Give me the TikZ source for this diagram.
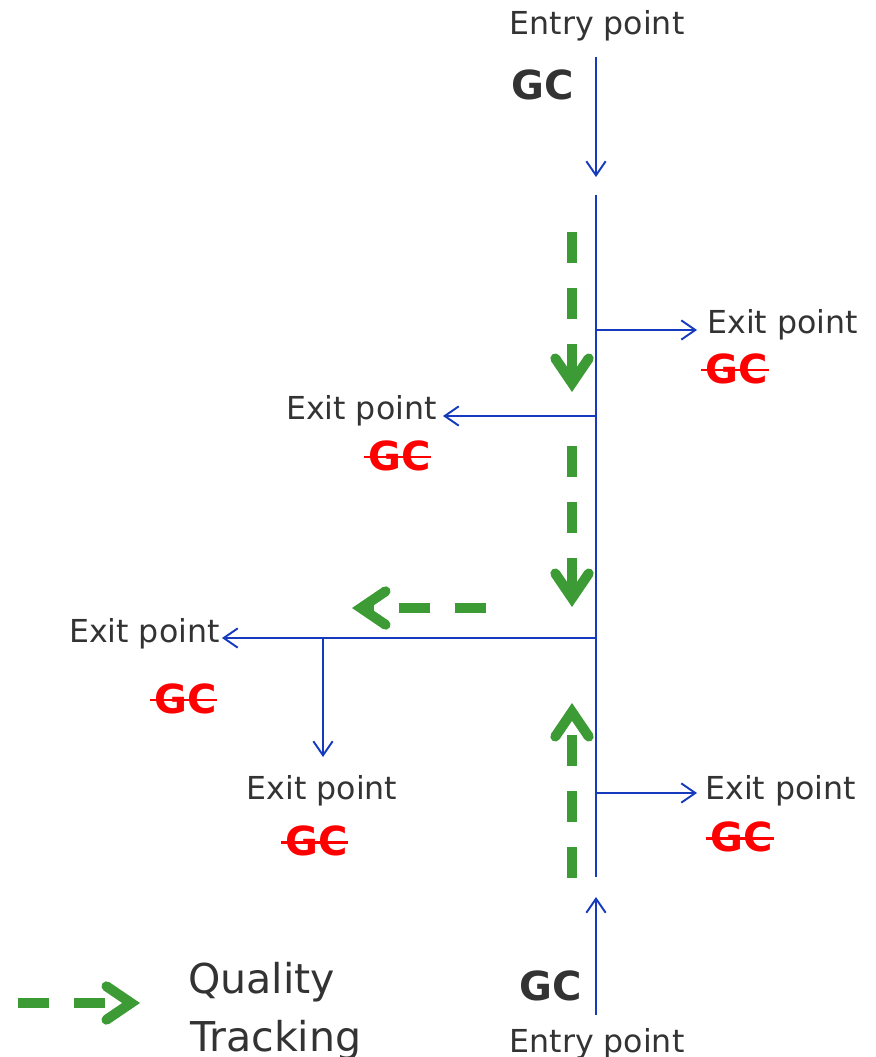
\documentclass[tikz,border=0pt]{standalone}
\usepackage{fontspec}
\setmainfont{DejaVu Sans}
\usetikzlibrary{arrows.meta,positioning}

\definecolor{txtgray}{RGB}{51,51,51}
\definecolor{flowblue}{RGB}{22,58,190}
\definecolor{trackgreen}{RGB}{61,155,53}

\begin{document}
\begin{tikzpicture}[x=0.02cm, y=-0.02cm]
  \tikzstyle{lbl}=[text=txtgray, font=\fontsize{18}{22}\selectfont, inner sep=0pt]
  \tikzstyle{gc}=[text=txtgray, font=\fontsize{22.8}{27}\selectfont\bfseries, inner sep=0pt]
  \tikzstyle{gone}=[text=red, font=\fontsize{22.8}{27}\selectfont\bfseries, inner sep=0pt]
  \tikzstyle{strike}=[draw=red, line width=1.7pt]
  \tikzstyle{flow}=[draw=flowblue, line width=1.1pt, -{Straight Barb[length=8pt, width=11pt]}]
  \tikzstyle{track}=[draw=trackgreen, line width=5.7pt, dash pattern=on 17.6pt off 14.2pt,
                     -{Straight Barb[length=14pt, width=19pt, line cap=round, line join=miter]}]
  \tikzstyle{legend}=[text=txtgray, font=\fontsize{23.4}{28}\selectfont, inner sep=0pt]

  \useasboundingbox (0,0) rectangle (875,1057);

  % entry from the top
  \node[lbl, anchor=base] (E1) at (597,35) {Entry point};
  \node[gc, anchor=base] (G1) at (543,100) {GC};
  \coordinate (T0) at (596,57);
  \coordinate (T1) at (596,177);
  \draw[flow] (T0) -- (T1);

  % main line
  \coordinate (M0) at (596,195);
  \coordinate (M1) at (596,877);
  \draw[flow, -] (M0) -- (M1);

  % entry from the bottom
  \coordinate (B0) at (596,1015);
  \coordinate (B1) at (596,897);
  \draw[flow] (B0) -- (B1);
  \node[gc, anchor=base] (G2) at (551,1000) {GC};
  \node[lbl, anchor=base] (E2) at (597,1052) {Entry point};

  % exit points
  \coordinate (J1) at (596,330);
  \coordinate (X1) at (697,330);
  \node[lbl, anchor=base west] (L1) at (707,333) {Exit point};
  \node[gone, anchor=base] (R1) at (737,383) {GC};

  \coordinate (J2) at (596,416);
  \coordinate (X2) at (443,416);
  \node[lbl, anchor=base east] (L2) at (437,419) {Exit point};
  \node[gone, anchor=base] (R2) at (400,470) {GC};

  \coordinate (J3) at (596,638);
  \coordinate (X3) at (222,638);
  \node[lbl, anchor=base east] (L3) at (220,642) {Exit point};
  \node[gone, anchor=base] (R3) at (186,713) {GC};

  \coordinate (J4) at (323,638);
  \coordinate (X4) at (323,757);
  \node[lbl, anchor=base] (L4) at (322,799) {Exit point};
  \node[gone, anchor=base] (R4) at (317,855) {GC};

  \coordinate (J5) at (596,793);
  \coordinate (X5) at (697,793);
  \node[lbl, anchor=base west] (L5) at (705,799) {Exit point};
  \node[gone, anchor=base] (R5) at (742,851) {GC};

  \foreach \n in {1,...,5}
    \draw[flow] (J\n) -- (X\n);
  \foreach \n in {1,...,5}
    \draw[strike] ([xshift=-2.5pt, yshift=7.4pt]R\n.base west) -- ([yshift=7.4pt]R\n.base east);

  % quality tracking
  \coordinate (A0) at (572,232);
  \coordinate (A1) at (572,392);
  \coordinate (C0) at (572,446);
  \coordinate (C1) at (572,607);
  \coordinate (D0) at (486,608);
  \coordinate (D1) at (352,608);
  \coordinate (U0) at (572,878);
  \coordinate (U1) at (572,703);
  \draw[track] (A0) -- (A1);
  \draw[track] (C0) -- (C1);
  \draw[track] (D0) -- (D1);
  \draw[track] (U0) -- (U1);

  % legend
  \coordinate (K0) at (18,1003);
  \coordinate (K1) at (140,1003);
  \draw[track] (K0) -- (K1);
  \node[legend, anchor=base west] (Q1) at (188,993) {Quality};
  \node[legend, anchor=base west] (Q2) at (190,1051) {Tracking};
\end{tikzpicture}
\end{document}
